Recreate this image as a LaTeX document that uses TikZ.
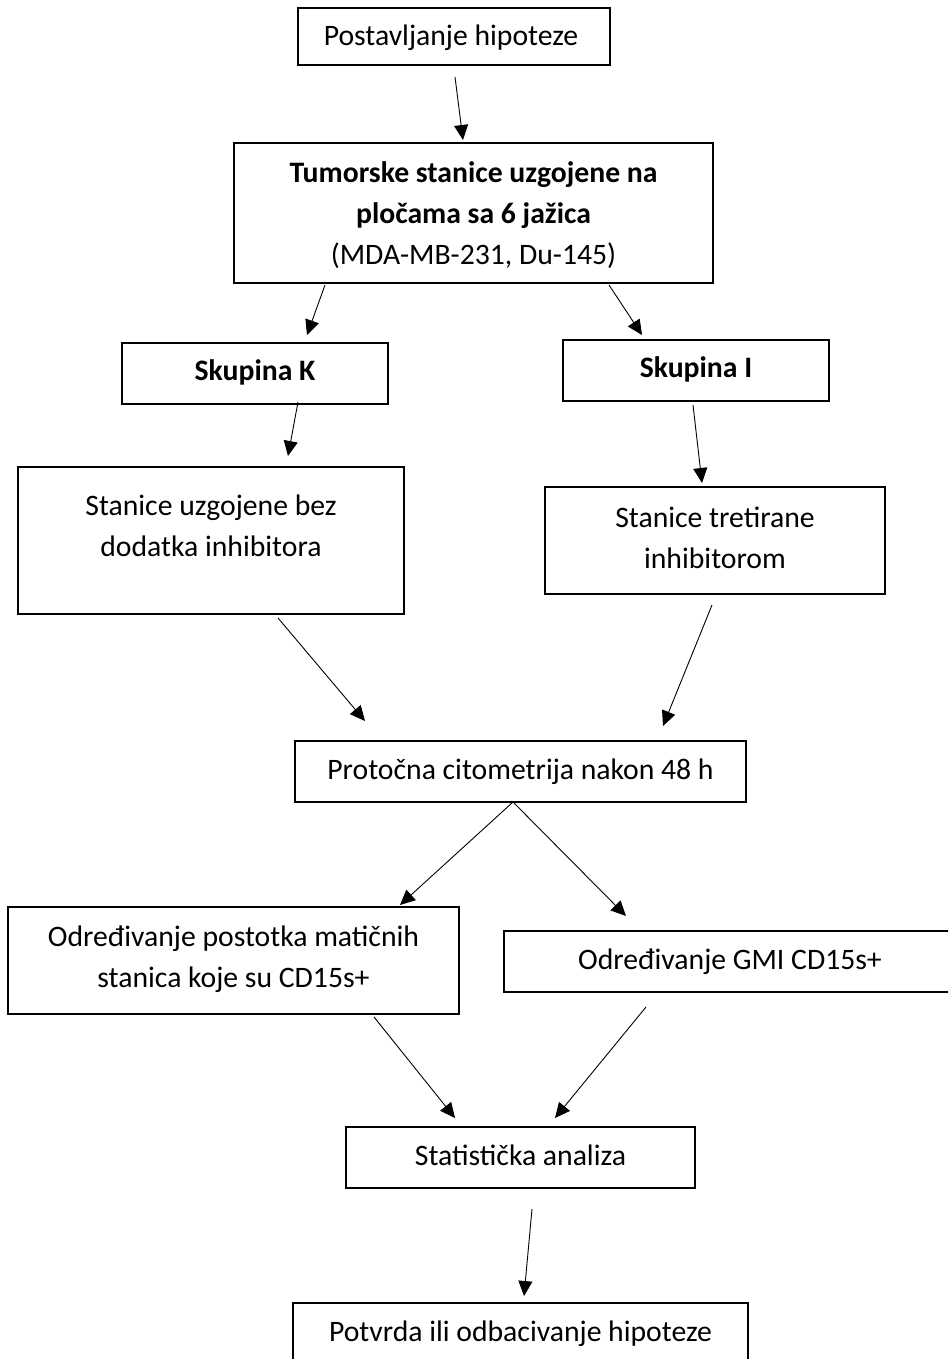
\documentclass[tikz,border=0pt]{standalone}
\usepackage{fontspec}
\setmainfont{Carlito}
\usetikzlibrary{arrows.meta}
\begin{document}
\begin{tikzpicture}[x=1pt,y=-1pt,
  box/.style={draw=black, line width=1.3pt, inner sep=0pt, fill=none},
  txt/.style={align=center, inner sep=0pt, font=\fontsize{29.7}{41}\selectfont},
  txtone/.style={txt, text height=21pt, text depth=6pt},
  arr/.style={line width=0.9pt, -{Triangle[length=15pt,width=14pt]}}]
\useasboundingbox (0,0) rectangle (948,1359);
\clip (0,0) rectangle (948,1359);
% boxes
\node[box, minimum width=312pt, minimum height=57pt] (n1) at (454,36.5) {};
\node[txtone] (n1t) at (451,38) {Postavljanje hipoteze};
\node[box, minimum width=479pt, minimum height=140pt] (n2) at (473.5,213) {};
\node[txt] (n2t) at (473.5,215) {\textbf{Tumorske stanice uzgojene na}\\\textbf{pločama sa 6 jažica}\\(MDA-MB-231, Du-145)};
\node[box, minimum width=266pt, minimum height=61pt] (n3) at (255,373.5) {};
\node[txtone] (n3t) at (255,373) {\textbf{Skupina K}};
\node[box, minimum width=266pt, minimum height=61pt] (n4) at (696,370.5) {};
\node[txtone] (n4t) at (696,370) {\textbf{Skupina I}};
\node[box, minimum width=386pt, minimum height=147pt] (n5) at (211,540.5) {};
\node[txt] (n5t) at (211,526) {Stanice uzgojene bez\\dodatka inhibitora};
\node[box, minimum width=340pt, minimum height=107pt] (n6) at (715,540.5) {};
\node[txt] (n6t) at (715,537.5) {Stanice tretirane\\inhibitorom};
\node[box, minimum width=451pt, minimum height=61pt] (n7) at (520.5,771.5) {};
\node[txtone] (n7t) at (520.5,772) {Protočna citometrija nakon 48 h};
\node[box, minimum width=451pt, minimum height=107pt] (n8) at (233.5,960.5) {};
\node[txt] (n8t) at (233.5,959) {Određivanje postotka matičnih\\stanica koje su CD15s+};
\node[box, minimum width=452pt, minimum height=61pt] (n9) at (730,961.5) {};
\node[txtone] (n9t) at (730,962) {Određivanje GMI CD15s+};
\node[box, minimum width=349pt, minimum height=61pt] (n10) at (520.5,1157.5) {};
\node[txtone] (n10t) at (520.5,1158) {Statistička analiza};
\node[box, minimum width=455pt, minimum height=61pt] (n11) at (520.5,1333.5) {};
\node[txtone] (n11t) at (520.5,1334) {Potvrda ili odbacivanje hipoteze};
% arrow end points
\coordinate (a1s) at (455,77);   \coordinate (a1e) at (463,140);
\coordinate (a2s) at (325,285);  \coordinate (a2e) at (307,335);
\coordinate (a3s) at (609,285);  \coordinate (a3e) at (642,335);
\coordinate (a4s) at (298,402);  \coordinate (a4e) at (288,456);
\coordinate (a5s) at (693,405);  \coordinate (a5e) at (702,483);
\coordinate (a6s) at (278,618);  \coordinate (a6e) at (365,721);
\coordinate (a7s) at (712,605);  \coordinate (a7e) at (663,726);
\coordinate (a8s) at (513,802);  \coordinate (a8e) at (400,905);
\coordinate (a9e) at (626,916);
\coordinate (a10s) at (374,1017); \coordinate (a10e) at (455,1118);
\coordinate (a11s) at (646,1007); \coordinate (a11e) at (555,1118);
\coordinate (a12s) at (532,1209); \coordinate (a12e) at (524,1296);
\draw[arr] (a1s) -- (a1e);
\draw[arr] (a2s) -- (a2e);
\draw[arr] (a3s) -- (a3e);
\draw[arr] (a4s) -- (a4e);
\draw[arr] (a5s) -- (a5e);
\draw[arr] (a6s) -- (a6e);
\draw[arr] (a7s) -- (a7e);
\draw[arr] (a8s) -- (a8e);
\draw[arr] (a8s) -- (a9e);
\draw[arr] (a10s) -- (a10e);
\draw[arr] (a11s) -- (a11e);
\draw[arr] (a12s) -- (a12e);
\end{tikzpicture}
\end{document}
